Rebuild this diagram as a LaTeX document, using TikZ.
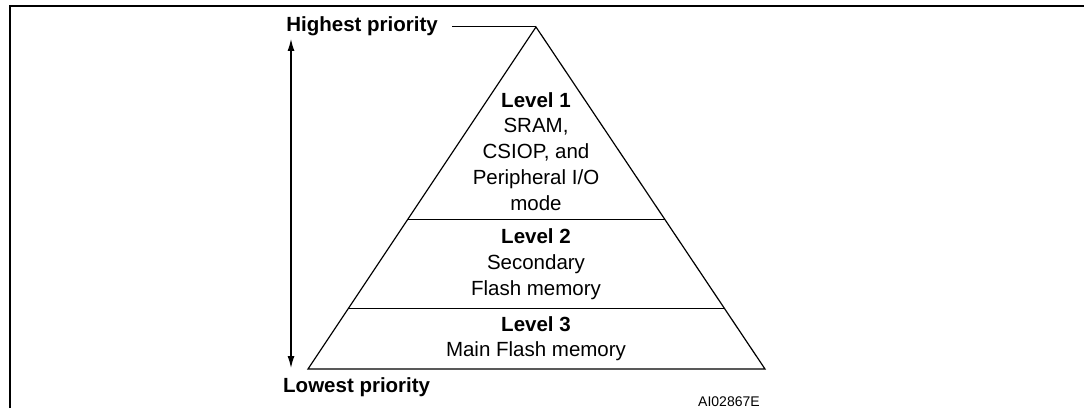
\documentclass[tikz,border=0pt]{standalone}
\usepackage{fontspec}
\setmainfont{Liberation Sans}
\usetikzlibrary{arrows.meta, calc}

\begin{document}
\begin{tikzpicture}[
    x=1pt, y=1pt,
    >={Latex[length=12pt,width=7pt]},
    every node/.style={font=\fontsize{20.5}{25.7}\selectfont, inner sep=0pt},
    levelbox/.style={align=center, anchor=base},
    prio/.style={font=\fontsize{20.5}{25.7}\selectfont\bfseries}
]
\useasboundingbox (0,0) rectangle (1084,408);

% Frame
\draw[line width=2pt] (10,0) -- (10,402) -- (1084,402);

% Pyramid
\coordinate (apex) at (536,381);
\coordinate (bl) at (308,39);
\coordinate (br) at (765,39);
\draw[line width=1.2pt, line join=miter] (bl) -- (apex) -- (br) -- cycle;

% Level dividers
\draw[line width=1.2pt] ($(bl)!0.178!(apex)$) coordinate (d3l) -- ($(br)!0.178!(apex)$) coordinate (d3r);
\draw[line width=1.2pt] ($(bl)!0.436!(apex)$) coordinate (d2l) -- ($(br)!0.436!(apex)$) coordinate (d2r);

% Level texts (base = last line)
\node[levelbox] (lvl1) at (536,198) {\textbf{Level 1}\\SRAM,\\CSIOP, and\\Peripheral I/O\\mode};
\node[levelbox] (lvl2) at (536,113) {\textbf{Level 2}\\Secondary\\Flash memory};
\node[levelbox] (lvl3) at (536,51.3) {\textbf{Level 3}\\Main Flash memory};

% Priority labels
\node[prio, anchor=base east] (high) at (438,376) {Highest priority};
\node[prio, anchor=base west] (low) at (283,16) {Lowest priority};
\draw[line width=1pt] ([xshift=14pt]high.east |- apex) -- (apex);

% Priority arrow
\coordinate (atop) at (291,369);
\coordinate (abot) at (291,40);
\draw[<->, line width=1.2pt] (abot) -- (atop);

% Figure id
\node[font=\fontsize{14}{16}\selectfont, anchor=base west] (fig) at (698,2) {AI02867E};

\end{tikzpicture}
\end{document}
